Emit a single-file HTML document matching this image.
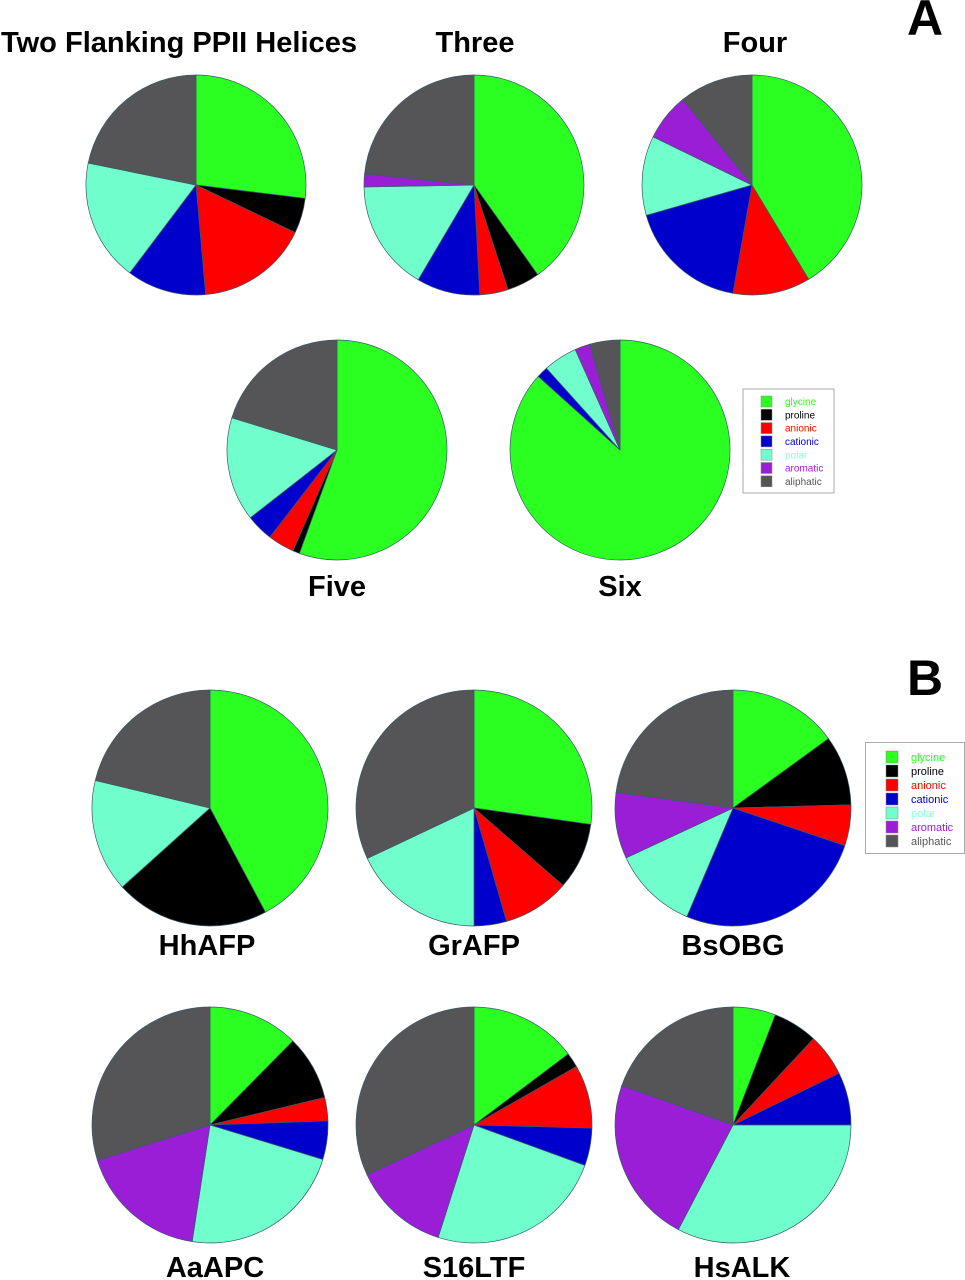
<!DOCTYPE html>
<html><head><meta charset="utf-8"><style>
html,body{margin:0;padding:0;background:#fff;}
svg{display:block;font-family:"Liberation Sans",Arial,sans-serif;}
</style></head><body>
<svg id="s" width="965" height="1280" viewBox="0 0 965 1280" xmlns="http://www.w3.org/2000/svg">
<rect width="965" height="1280" fill="#fff"/>
<g font-weight="bold" fill="#000" text-anchor="middle" font-size="29">
<text x="179" y="52" textLength="356" lengthAdjust="spacingAndGlyphs">Two Flanking PPII Helices</text>
<text x="475" y="52">Three</text>
<text x="755" y="52">Four</text>
<text x="337" y="596">Five</text>
<text x="620" y="596">Six</text>
<text x="207" y="955">HhAFP</text>
<text x="474" y="955">GrAFP</text>
<text x="733" y="955">BsOBG</text>
<text x="215" y="1277">AaAPC</text>
<text x="474" y="1277">S16LTF</text>
<text x="742" y="1277">HsALK</text>
<text x="925" y="35" font-size="50">A</text>
<text x="925" y="695" font-size="50">B</text>
</g>
<g id="pies"></g>
<g font-size="10">
<rect x="743" y="389" width="91" height="104" fill="#fff" stroke="#aaa"/>
<g id="legA"></g>
<rect x="865.5" y="742.5" width="99" height="111" fill="#fff" stroke="#aaa"/>
<g id="legB"></g>
</g>
</svg>
<script>
var C=["#2bff21","#000000","#ff0000","#0000cc","#70ffcc","#9a1ed6","#555558"];
var N=["glycine","proline","anionic","cationic","polar","aromatic","aliphatic"];
var pies=[
[196,185,110,[97,115.6,175,217,281.5,281.5]],
[474,185,110,[144.6,162,177,210.5,269,275.8]],
[752,185,110,[149,149,190,254,296,321]],
[337,450,110,[200,203.6,217.6,232,287,287]],
[620,450,110,[312,312,312,318,336,344]],
[210,808,118,[152,228,228,228,283.5,283.5]],
[474,808,118,[98,131,164,180,244.7,244.7]],
[733,808,118,[54,88.5,108.6,203,245,277.6]],
[210,1125,118,[44.6,76.5,88,107,188.7,252.6]],
[474,1125,118,[53,60.3,91.5,110,197.7,245]],
[733,1125,118,[21,43,64,90,207.6,289.5]]];
var g=document.getElementById("pies"),h="";
function pt(cx,cy,r,a){a=a*Math.PI/180;return (cx+r*Math.sin(a)).toFixed(2)+","+(cy-r*Math.cos(a)).toFixed(2);}
pies.forEach(function(p){var cx=p[0],cy=p[1],r=p[2],b=[0].concat(p[3]).concat([360]);
for(var i=0;i<7;i++){var a0=b[i],a1=b[i+1];if(a1-a0<0.01)continue;
var la=(a1-a0)>180?1:0;
h+='<path d="M'+cx+','+cy+' L'+pt(cx,cy,r,a0)+' A'+r+','+r+' 0 '+la+' 1 '+pt(cx,cy,r,a1)+' Z" fill="'+C[i]+'" stroke="#3a5a6a" stroke-width="0.7"/>';}
});
g.innerHTML=h;
function leg(id,sx,tx,y0,dy,sz,fs){var s="";for(var i=0;i<7;i++){var y=y0+i*dy;
s+='<rect x="'+sx+'" y="'+(y-sz/2)+'" width="'+sz+'" height="'+sz+'" fill="'+C[i]+'" stroke="#888" stroke-width="0.5"/>';
s+='<text x="'+tx+'" y="'+(y+fs*0.36)+'" font-size="'+fs+'" fill="'+(i==4?"#8affdd":C[i]=="#000000"?"#000":C[i])+'">'+N[i]+'</text>';}
document.getElementById(id).innerHTML=s;}
leg("legA",761,785,401.5,13.3,11,10);
leg("legB",886,911,757,14,12,11);
</script>
</body></html>
